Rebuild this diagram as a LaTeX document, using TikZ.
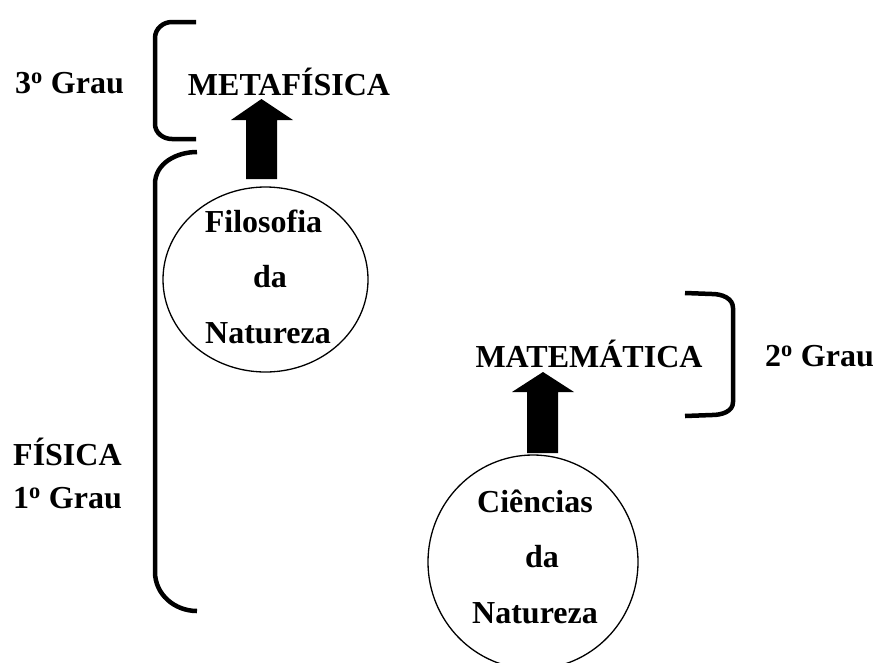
\documentclass[tikz,border=0pt]{standalone}
\usepackage{fontspec}
\setmainfont{Liberation Serif}
\usetikzlibrary{shapes.geometric}
\begin{document}
\begin{tikzpicture}[x=1pt,y=-1pt,
  lbl/.style={font=\fontsize{32}{38}\selectfont\bfseries, inner sep=0pt, anchor=base},
  lblw/.style={lbl, anchor=base west},
  ring/.style={ellipse, draw, line width=1.3pt, inner sep=0pt},
  brack/.style={line width=4.5pt},
  blockarrow/.style={fill=black}]
\useasboundingbox (0,0) rectangle (875,662);
% ellipses
\node[ring, minimum width=205pt, minimum height=185pt] (c1) at (265.5,279.5) {};
\node[ring, minimum width=210pt, minimum height=214pt] (c2) at (533,562) {};
% texts
\node[lbl] (meta) at (289,95) {METAFÍSICA};
\node[lbl] (g3) at (69.5,93) {3\textsuperscript{o} Grau};
\node[lblw] (fis) at (13,465) {FÍSICA};
\node[lblw] (g1) at (13,508) {1\textsuperscript{o} Grau};
\node[lbl] (mat) at (589,367) {MATEMÁTICA};
\node[lblw] (g2) at (765,366) {2\textsuperscript{o} Grau};
\node[lbl] (f1) at (263.5,232) {Filosofia};
\node[lbl] (f2) at (270,287) {da};
\node[lbl] (f3) at (268,343) {Natureza};
\node[lbl] (k1) at (535,512) {Ciências};
\node[lbl] (k2) at (542,567) {da};
\node[lbl] (k3) at (535,623) {Natureza};
% block arrows
\coordinate (a1) at (261.5,179);
\coordinate (a2) at (542.5,453);
\fill[blockarrow] (a1) ++(-15.5,0) -- ++(0,-59) -- ++(-15,0) -- ++(30.5,-21) -- ++(31.5,21) -- ++(-16,0) -- ++(0,59) -- cycle;
\fill[blockarrow] (a2) ++(-15.5,0) -- ++(0,-61) -- ++(-15,0) -- ++(31,-20) -- ++(31,20) -- ++(-16,0) -- ++(0,61) -- cycle;
% brackets
\draw[brack] (196,22) -- (172,22) to[out=180,in=90] (155,38) -- (155,124) to[out=-90,in=180] (172,139) -- (196,139);
\draw[brack] (197,152) to[out=180,in=90] (155,184) -- (155,572) to[out=-90,in=180] (197,611);
\draw[brack] (685,293) -- (712,294) to[out=0,in=90] (733,308) -- (733,402) to[out=-90,in=0] (712,415) -- (685,416);
\end{tikzpicture}
\end{document}
